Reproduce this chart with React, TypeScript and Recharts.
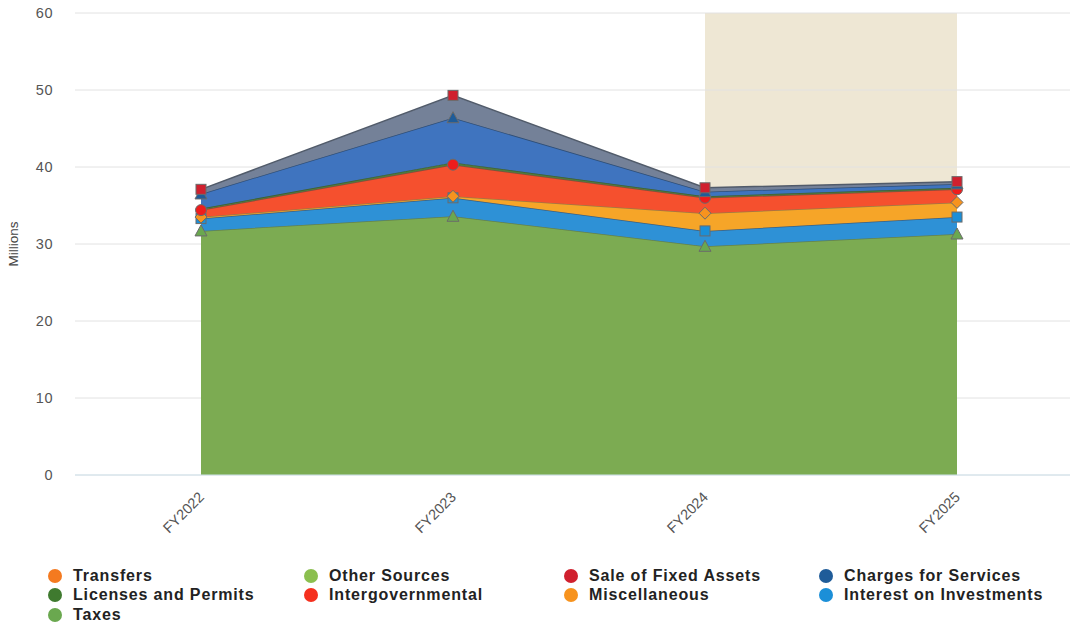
import React from 'react'
import { ComposedChart, Area, Line, XAxis, YAxis, CartesianGrid, ReferenceArea, Label } from 'recharts'

// values in millions
const categories = ['FY2022', 'FY2023', 'FY2024', 'FY2025']
const taxes = [31.7, 33.6, 29.7, 31.3]
const interestOnInvestments = [1.6, 2.4, 2.0, 2.2]
const miscellaneous = [0.2, 0.2, 2.3, 1.9]
const intergovernmental = [0.9, 4.1, 2.0, 1.7]
const licensesAndPermits = [0.2, 0.3, 0.2, 0.2]
const chargesForServices = [1.9, 5.8, 0.6, 0.5]
const saleOfFixedAssets = [0.6, 2.9, 0.5, 0.3]
const otherSources = [0, 0, 0, 0]
const transfers = [0, 0, 0, 0]
const yTicks = [0, 10, 20, 30, 40, 50, 60]

// stacking order, bottom to top
const series = [
  { key: 'taxes', values: taxes, fill: '#7cab52', stroke: '#63804c', marker: 'triangle', markerColor: '#6aa84f' },
  { key: 'interest', values: interestOnInvestments, fill: '#2e91d6', stroke: '#3d5f7e', marker: 'square', markerColor: '#1b8fd8' },
  { key: 'misc', values: miscellaneous, fill: '#f6a528', stroke: '#9a7a45', marker: 'diamond', markerColor: '#f7931e' },
  { key: 'intergov', values: intergovernmental, fill: '#f5502e', stroke: '#8a4a3c', marker: 'circle', markerColor: '#ee1c1c' },
  { key: 'licenses', values: licensesAndPermits, fill: '#4f7b3d', stroke: '#3f5f35', marker: null, markerColor: '' },
  { key: 'charges', values: chargesForServices, fill: '#3f74bf', stroke: '#2f4f78', marker: 'triangle', markerColor: '#1f5c99' },
  { key: 'sale', values: saleOfFixedAssets, fill: '#748198', stroke: '#515b6a', marker: 'square', markerColor: '#d0202e' },
  { key: 'other', values: otherSources, fill: '#8bbf4f', stroke: 'none', marker: null, markerColor: '' },
  { key: 'transfers', values: transfers, fill: '#f47a20', stroke: 'none', marker: null, markerColor: '' },
]

const legendItems = [
  { name: 'Transfers', color: '#f47a20' },
  { name: 'Other Sources', color: '#8bbf4f' },
  { name: 'Sale of Fixed Assets', color: '#d0202e' },
  { name: 'Charges for Services', color: '#1f5c99' },
  { name: 'Licenses and Permits', color: '#3f7a2f' },
  { name: 'Intergovernmental', color: '#f5301e' },
  { name: 'Miscellaneous', color: '#f7931e' },
  { name: 'Interest on Investments', color: '#1b8fd8' },
  { name: 'Taxes', color: '#6aa84f' },
]

const data = categories.map((category, i) => {
  const row: Record<string, any> = { category }
  let sum = 0
  series.forEach((s) => {
    row[s.key] = s.values[i]
    sum += s.values[i]
    row['cum_' + s.key] = sum
  })
  return row
})

const makeMarker = (shape: string, color: string) => (props: any) => {
  const { cx, cy, index } = props
  const k = shape + color + index
  if (cx == null || cy == null) return <g key={k} />
  const common = { fill: color, stroke: '#6b6b6b', strokeWidth: 1 }
  if (shape === 'circle') return <circle key={k} cx={cx} cy={cy} r={5.5} {...common} />
  if (shape === 'square') return <rect key={k} x={cx - 5} y={cy - 5} width={10} height={10} {...common} />
  if (shape === 'diamond')
    return <path key={k} d={`M${cx},${cy - 6}L${cx + 6},${cy}L${cx},${cy + 6}L${cx - 6},${cy}Z`} {...common} />
  return <path key={k} d={`M${cx},${cy - 6}L${cx + 6},${cy + 5}L${cx - 6},${cy + 5}Z`} {...common} />
}

const XTick = (props: any) => {
  const { x, y, payload } = props
  const ax = x + 4
  const ay = y + 21
  return (
    <text x={ax} y={ay} transform={`rotate(-45, ${ax}, ${ay})`} textAnchor="end" fontSize={14.5} fill="#555"
      fontFamily="Liberation Sans, Arial, sans-serif">
      {payload.value}
    </text>
  )
}

const colX = [48, 304, 564, 819]
const rowY = [576, 595, 615]

export default function App() {
  return (
    <div style={{ position: 'absolute', left: 0, top: 0, width: 1078, height: 629, background: '#fff', overflow: 'hidden' }}>
      <ComposedChart width={1078} height={560} data={data} margin={{ top: 13, right: 8, bottom: 0, left: 0 }}>
        <ReferenceArea x1="FY2024" x2="FY2025" y1={0} y2={60} fill="#eee7d4" fillOpacity={1} stroke="none" zIndex={-150} />
        <CartesianGrid vertical={false} stroke="#e2e2e2" />
        <XAxis dataKey="category" scale="point" padding={{ left: 126, right: 113 }} interval={0}
          tickLine={false} tickSize={0} height={85} axisLine={{ stroke: '#cfe2ec' }} tick={<XTick />} />
        <YAxis domain={[0, 60]} ticks={yTicks} width={75} axisLine={false} tickLine={false} tickSize={0} tickMargin={22}
          tick={{ fontSize: 14.5, fill: '#555', fontFamily: 'Liberation Sans, Arial, sans-serif', letterSpacing: 0.5 }}>
          <Label content={() => (
            <text x={18} y={244} transform="rotate(-90, 18, 244)" textAnchor="middle" fontSize={13.5} fill="#444"
              fontFamily="Liberation Sans, Arial, sans-serif">Millions</text>
          )} />
        </YAxis>
        {series.map((s) => (
          <Area key={s.key} type="linear" dataKey={s.key} stackId="1" fill={s.fill} fillOpacity={1}
            stroke={s.stroke} strokeWidth={1.5} dot={false} activeDot={false} isAnimationActive={false} />
        ))}
        {series.filter((s) => s.marker).map((s) => (
          <Line key={'m_' + s.key} type="linear" dataKey={'cum_' + s.key} stroke="none" legendType="none"
            dot={makeMarker(s.marker as string, s.markerColor)} activeDot={false} isAnimationActive={false} />
        ))}
      </ComposedChart>
      {legendItems.map((item, i) => (
        <div key={item.name} style={{
          position: 'absolute', left: colX[i % 4], top: rowY[Math.floor(i / 4)] - 10, height: 20,
          display: 'flex', alignItems: 'center', fontFamily: 'Liberation Sans, Arial, sans-serif',
          fontWeight: 'bold', fontSize: 16, letterSpacing: 0.85, color: '#222', whiteSpace: 'nowrap',
        }}>
          <span style={{ width: 14, height: 14, borderRadius: 7, background: item.color, marginRight: 11, display: 'inline-block' }} />
          {item.name}
        </div>
      ))}
    </div>
  )
}
